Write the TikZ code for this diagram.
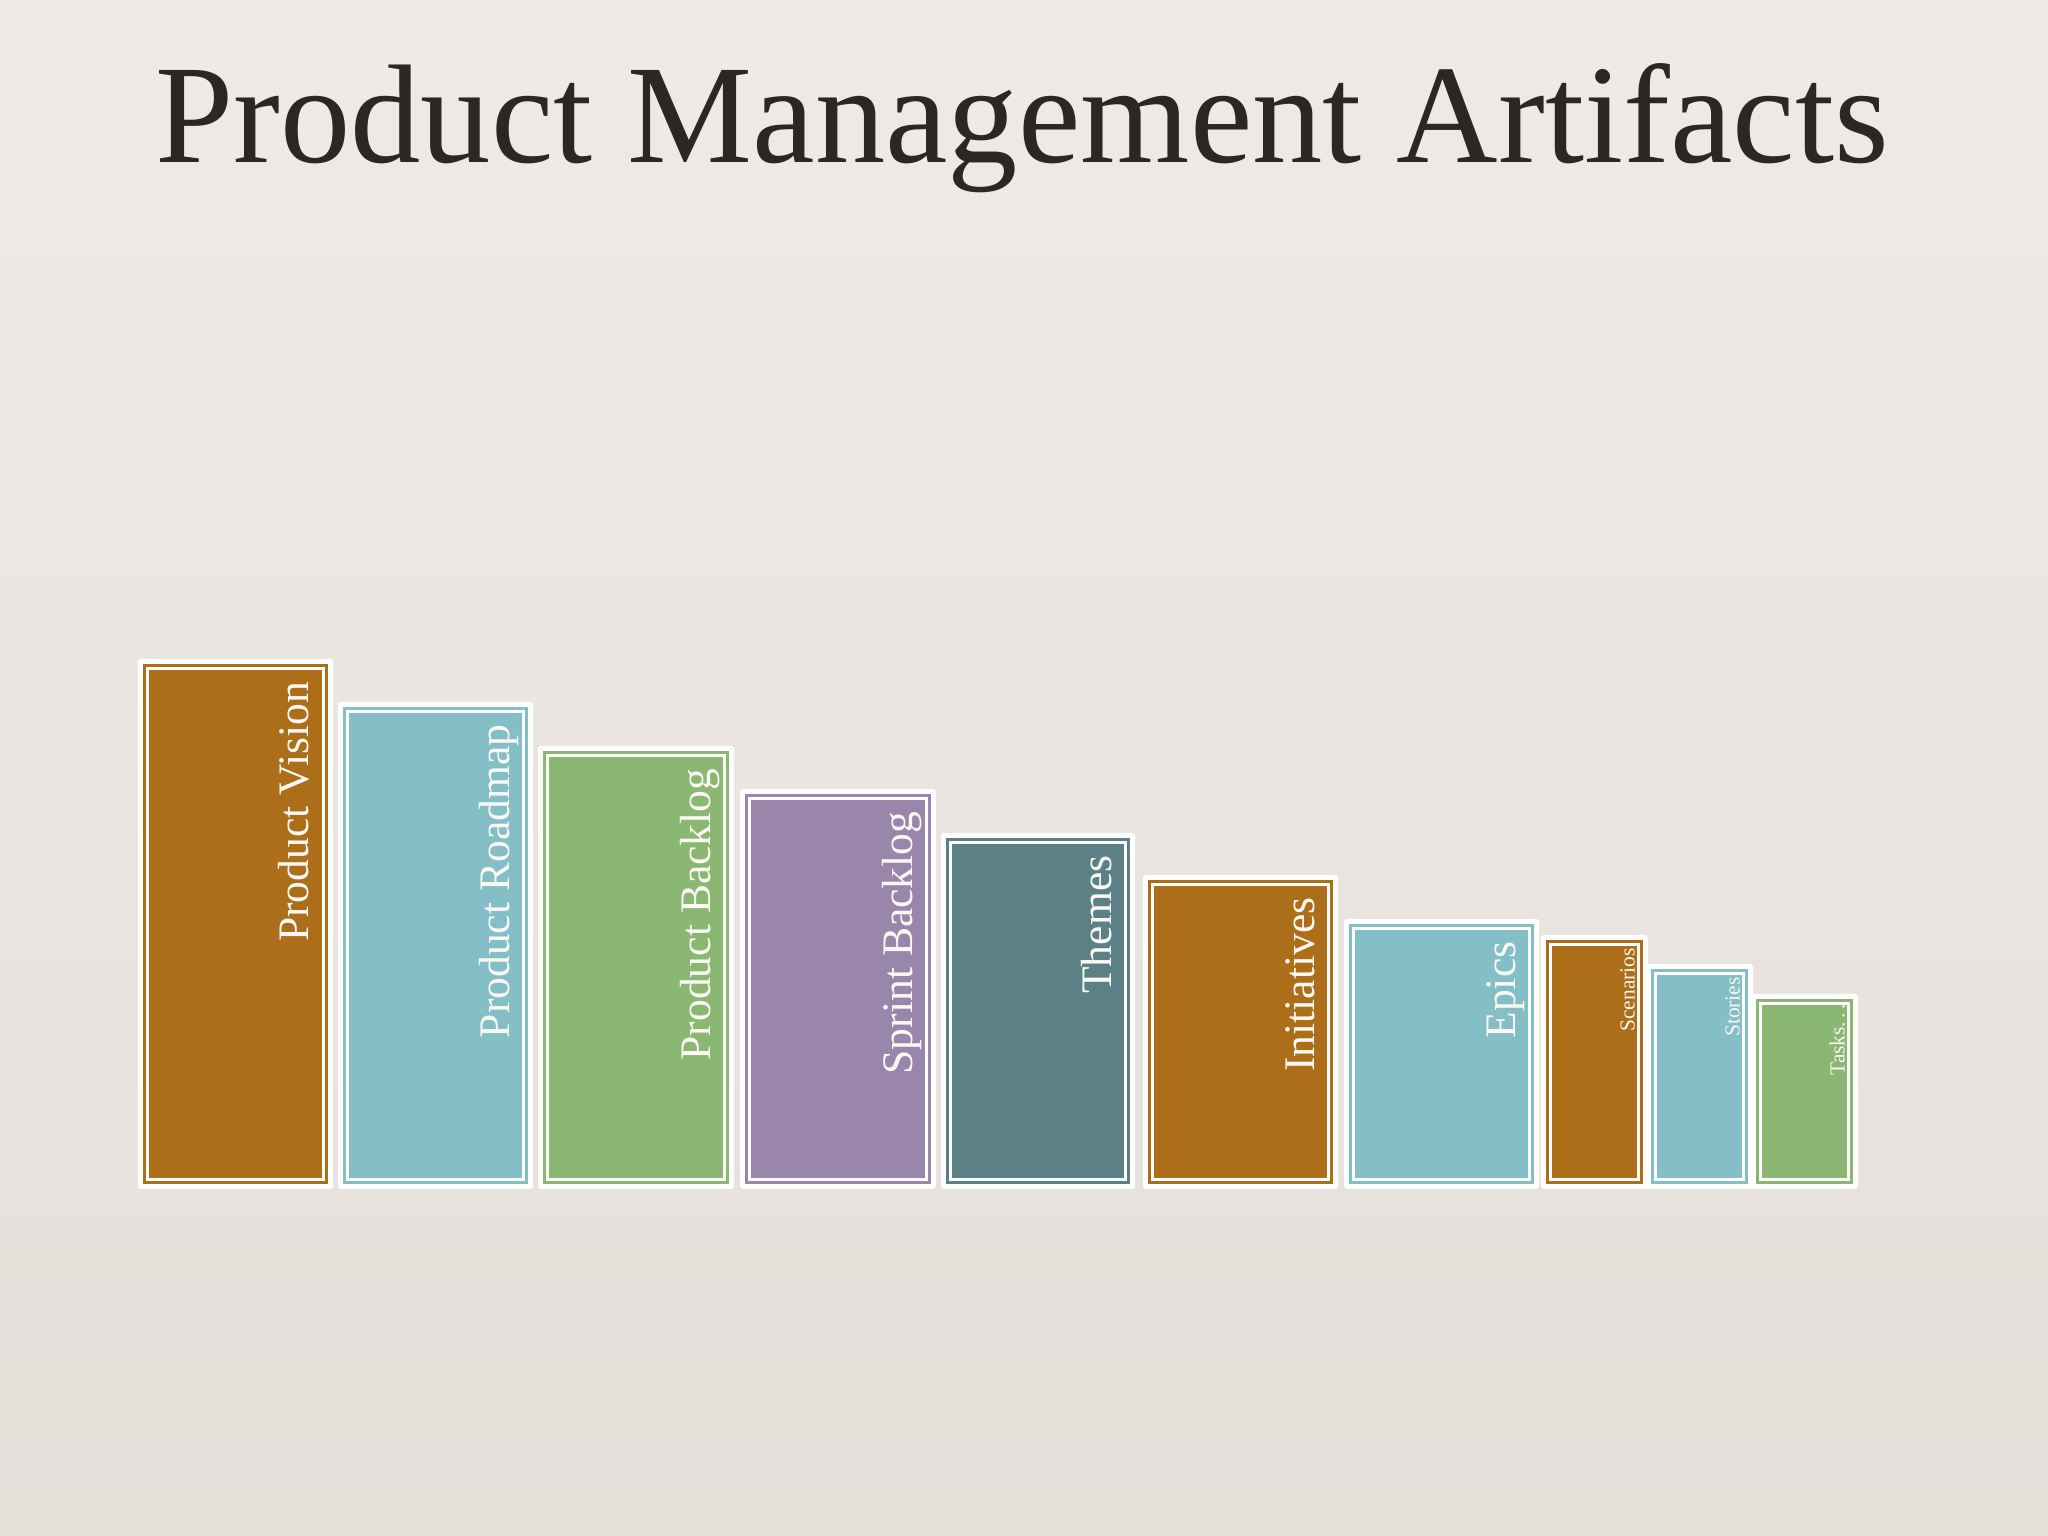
\documentclass[tikz,border=0pt]{standalone}
\usepackage{fontspec}
\setmainfont{Liberation Serif}

\definecolor{ochre}{HTML}{AD6E1A}
\definecolor{skyblue}{HTML}{84BEC7}
\definecolor{sage}{HTML}{8AB872}
\definecolor{lilac}{HTML}{9A86AA}
\definecolor{slate}{HTML}{5B8187}
\definecolor{paper}{HTML}{EEEBE7}
\definecolor{paperdark}{HTML}{E5DFDA}
\definecolor{ink}{HTML}{2B2725}
\definecolor{chalk}{HTML}{FBF8F3}

\tikzset{
  halo/.style={fill=white, rounded corners=0.03cm},
  barline/.style={draw=white, line width=0.85pt},
  biglabel/.style={rotate=90, anchor=base east, inner sep=0pt, text=chalk,
    font=\fontsize{12.4}{14}\selectfont},
  smalllabel/.style={biglabel, font=\fontsize{6.1}{7}\selectfont}
}

\begin{document}
\begin{tikzpicture}

\shade[top color=paper, bottom color=paperdark] (0,0) rectangle (20.48,15.36);

\node[anchor=base, text=ink, font=\fontsize{40}{44}\selectfont] (title) at (10.22,13.73) {Product Management Artifacts};

\fill[halo] (1.38,3.47) rectangle (3.33,8.77);
\fill[ochre] (1.43,3.52) rectangle (3.28,8.72);
\draw[barline] (1.475,3.565) rectangle (3.235,8.675);
\node[biglabel] (vision) at (3.09,8.55) {Product Vision};

\fill[halo] (3.38,3.47) rectangle (5.33,8.34);
\fill[skyblue] (3.43,3.52) rectangle (5.28,8.29);
\draw[barline] (3.475,3.565) rectangle (5.235,8.245);
\node[biglabel] (roadmap) at (5.09,8.12) {Product Roadmap};

\fill[halo] (5.38,3.47) rectangle (7.34,7.90);
\fill[sage] (5.43,3.52) rectangle (7.29,7.85);
\draw[barline] (5.475,3.565) rectangle (7.245,7.805);
\node[biglabel] (pbacklog) at (7.10,7.68) {Product Backlog};

\fill[halo] (7.40,3.47) rectangle (9.36,7.47);
\fill[lilac] (7.45,3.52) rectangle (9.31,7.42);
\draw[barline] (7.495,3.565) rectangle (9.265,7.375);
\node[biglabel] (sbacklog) at (9.12,7.25) {Sprint Backlog};

\fill[halo] (9.41,3.47) rectangle (11.35,7.03);
\fill[slate] (9.46,3.52) rectangle (11.30,6.98);
\draw[barline] (9.505,3.565) rectangle (11.255,6.935);
\node[biglabel] (themes) at (11.11,6.81) {Themes};

\fill[halo] (11.43,3.47) rectangle (13.38,6.61);
\fill[ochre] (11.48,3.52) rectangle (13.33,6.56);
\draw[barline] (11.525,3.565) rectangle (13.285,6.515);
\node[biglabel] (initiatives) at (13.14,6.39) {Initiatives};

\fill[halo] (13.44,3.47) rectangle (15.39,6.17);
\fill[skyblue] (13.49,3.52) rectangle (15.34,6.12);
\draw[barline] (13.535,3.565) rectangle (15.295,6.075);
\node[biglabel] (epics) at (15.15,5.95) {Epics};

\fill[halo] (15.41,3.47) rectangle (16.48,6.01);
\fill[ochre] (15.46,3.52) rectangle (16.43,5.96);
\draw[barline] (15.505,3.565) rectangle (16.385,5.915);
\node[smalllabel] (scenarios) at (16.345,5.885) {Scenarios};

\fill[halo] (16.46,3.47) rectangle (17.53,5.72);
\fill[skyblue] (16.51,3.52) rectangle (17.48,5.67);
\draw[barline] (16.555,3.565) rectangle (17.435,5.625);
\node[smalllabel] (stories) at (17.395,5.595) {Stories};

\fill[halo] (17.51,3.47) rectangle (18.58,5.42);
\fill[sage] (17.56,3.52) rectangle (18.53,5.37);
\draw[barline] (17.605,3.565) rectangle (18.485,5.325);
\node[smalllabel] (tasks) at (18.445,5.33) {Tasks.\kern0.17em.\kern0.17em.};

\end{tikzpicture}
\end{document}
